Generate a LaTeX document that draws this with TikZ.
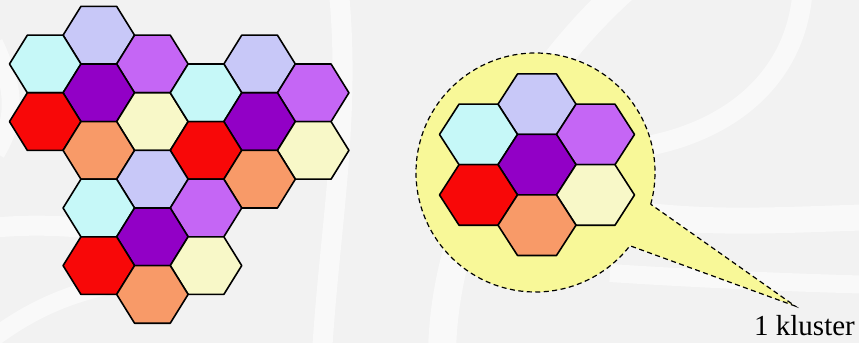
\documentclass[tikz,border=0pt]{standalone}
\usepackage{fontspec}
\setmainfont{Liberation Serif}
\usetikzlibrary{positioning}
\definecolor{bgcol}{HTML}{F2F2F2}
\definecolor{hexlav}{HTML}{C8C8F8}
\definecolor{hexcyan}{HTML}{C6F8F8}
\definecolor{hexviolet}{HTML}{C566F5}
\definecolor{hexpurple}{HTML}{9200C6}
\definecolor{hexred}{HTML}{F80808}
\definecolor{hexorange}{HTML}{F89A68}
\definecolor{hexcream}{HTML}{F8F8C8}
\definecolor{bubblecol}{HTML}{F8F898}
\tikzset{
  cell/.style={draw=black, line width=1.6pt, line join=round},
  watermark/.style={draw=white, line width=22pt, opacity=0.55},
  callout/.style={draw=black, fill=bubblecol, line width=1.2pt, dash pattern=on 5pt off 3.5pt},
  tag/.style={inner sep=0pt, font=\rmfamily\fontsize{29}{32}\selectfont}
}
% one hexagon, centre #1, fill #2 (units: half width / half height)
\newcommand{\hexcell}[2]{%
  \draw[cell, fill=#2] #1 ++(-1,0) -- ++(0.5,1) -- ++(1,0) -- ++(0.5,-1)
    -- ++(-0.5,-1) -- ++(-1,0) -- cycle;}
% one cluster of seven cells around #1/#2
\newcommand{\hexcluster}[2]{%
  \foreach \dx/\dy/\col in {0/2/hexlav, -1.5/1/hexcyan, 1.5/1/hexviolet, 0/0/hexpurple,
      -1.5/-1/hexred, 1.5/-1/hexcream, 0/-2/hexorange}
    \hexcell{(#1+\dx,#2+\dy)}{\col};}

\begin{document}
\begin{tikzpicture}[x=1pt, y=1pt]

\fill[bgcol] (0,0) rectangle (859,343);
\useasboundingbox (0,0) rectangle (859,343);

% faint background swooshes
\begin{scope}
\clip (0,0) rectangle (859,343);
\draw[watermark, line width=28pt] (630,360) .. controls (560,300) and (445,160) .. (442,-10);
\draw[watermark, line width=20pt] (803,360) .. controls (800,260) and (720,200) .. (610,192);
\draw[watermark, line width=26pt] (640,128) .. controls (720,118) and (800,124) .. (880,126);
\draw[watermark, line width=18pt] (610,70) .. controls (700,64) and (800,60) .. (880,58);
\draw[watermark, line width=20pt] (338,360) .. controls (352,230) and (330,120) .. (322,-10);
\draw[watermark, line width=18pt] (-6,300) .. controls (18,250) and (14,220) .. (-4,190);
\draw[watermark, line width=20pt] (-10,115) .. controls (60,122) and (120,112) .. (180,100);
\draw[watermark, line width=18pt] (-8,4) .. controls (40,40) and (90,60) .. (170,66);
\end{scope}

% cell pattern: three clusters
\begin{scope}[shift={(98.8,250.2)}, x=35.73pt, y=28.8pt]
  \foreach \cx/\cy in {0/0, 4.5/-1, 1.5/-5}
    {\hexcluster{\cx}{\cy}}
\end{scope}

% call-out with a single cluster
\coordinate (bubble) at (535.5,170.5);
\coordinate (tip) at (795,37);
\draw[callout] ([shift={(bubble)}]-15.4:119.5pt) arc[start angle=-15.4, end angle=322.2, radius=119.5pt]
  -- (tip) -- cycle;

\begin{scope}[shift={(537,178.3)}, x=39pt, y=30.25pt]
  \hexcluster{0}{0}
\end{scope}

\node[tag, below=9pt of tip, xshift=9.5pt] (lbl) {1 kluster};

\end{tikzpicture}
\end{document}
